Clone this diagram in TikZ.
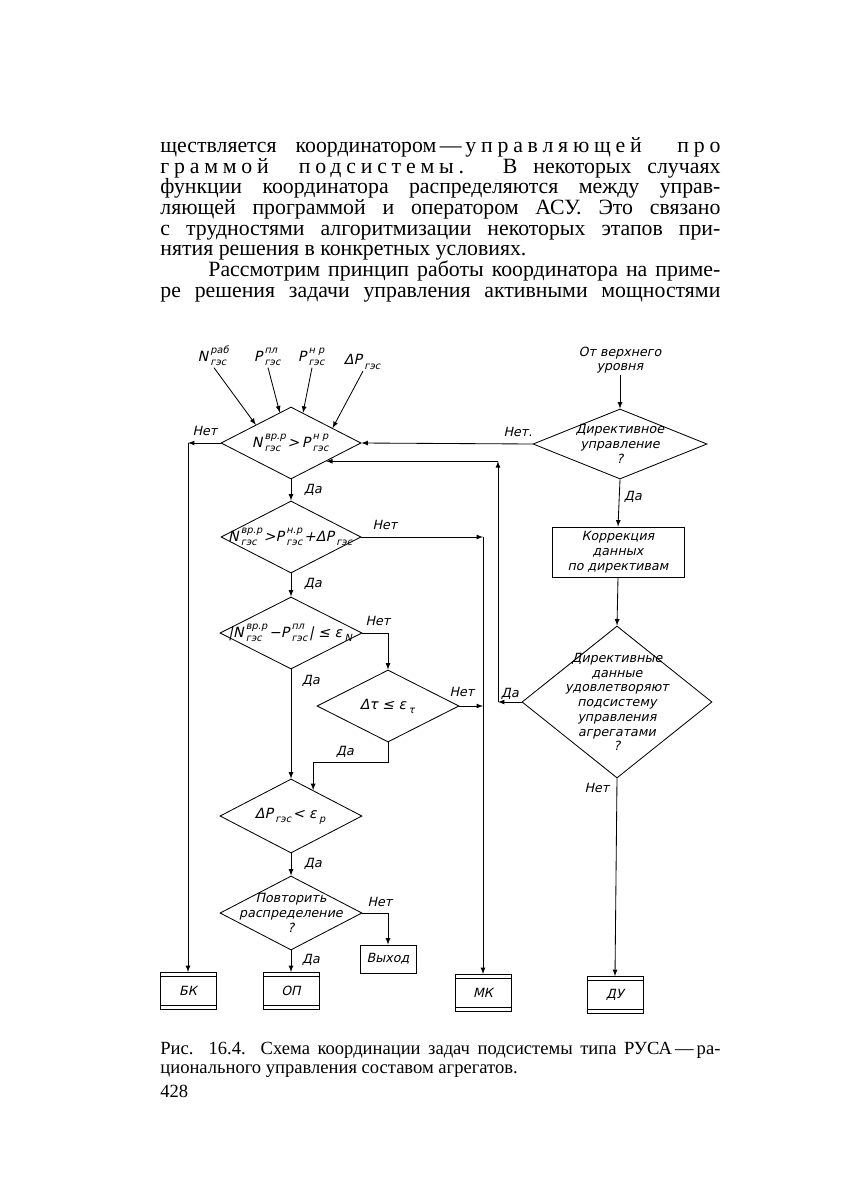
\documentclass[tikz,border=0pt]{standalone}
\usepackage{fontspec}
\setmainfont{Liberation Serif}
\newfontfamily\drw{DejaVu Sans}[FakeSlant=0.22]
\usetikzlibrary{shapes.geometric,calc}

\newlength\pxl
\setlength\pxl{0.025cm}
\newcommand\scr{\fontsize{7}{7}\selectfont}
\newcommand\qv[3]{#1\kern1.6pt\ooalign{\raisebox{5.5pt}{\scr#2}\cr\raisebox{-3pt}{\scr#3}\cr}\kern1.2pt}
\newcommand\rz[1]{{\addfontfeature{LetterSpace=22}#1}}

\tikzset{
  lbl/.style={font=\drw\fontsize{9}{10.5}\selectfont, inner sep=1pt, align=center},
  frm/.style={lbl, font=\drw\fontsize{10}{11}\selectfont},
  dia/.style 2 args={draw, diamond, inner sep=0pt, minimum width=#1*0.025cm, minimum height=#2*0.025cm},
  blk/.style 2 args={lbl, draw, rectangle, inner sep=0pt, minimum width=#1*0.025cm, minimum height=#2*0.025cm},
  subr/.style={blk={56}{37}, path picture={
      \draw ([yshift=-4\pxl]path picture bounding box.north west) -- ([yshift=-4\pxl]path picture bounding box.north east)
            ([yshift=4\pxl]path picture bounding box.south west) -- ([yshift=4\pxl]path picture bounding box.south east);}},
  txt/.style={anchor=base west, inner sep=0pt, font=\fontsize{15.5}{17}\selectfont},
  captxt/.style={anchor=base west, inner sep=0pt, font=\fontsize{13.2}{15}\selectfont},
}

\begin{document}
\begin{tikzpicture}[x=0.025cm,y=-0.025cm,>=latex,line width=0.6pt]
  \useasboundingbox (0,0) rectangle (846,1190);

  % text above the figure
  \node[txt] (l1) at (160,152) {\makebox[560\pxl][s]{ществляется координатором\,—\,\rz{управляющей про}}};
  \node[txt] (l2) at (160,173) {\makebox[560\pxl][s]{\rz{граммой подсистемы.} В некоторых случаях}};
  \node[txt] (l3) at (160,193) {\makebox[560\pxl][s]{функции координатора распределяются между управ-}};
  \node[txt] (l4) at (160,214) {\makebox[560\pxl][s]{ляющей программой и оператором АСУ. Это связано}};
  \node[txt] (l5) at (160,235) {\makebox[560\pxl][s]{с трудностями алгоритмизации некоторых этапов при-}};
  \node[txt] (l6) at (160,255) {нятия решения в конкретных условиях.};
  \node[txt] (l7) at (208,276) {\makebox[512\pxl][s]{Рассмотрим принцип работы координатора на приме-}};
  \node[txt] (l8) at (160,297) {\makebox[560\pxl][s]{ре решения задачи управления активными мощностями}};

  % inputs
  \node[frm] (in1) at (214,356) {\qv{N}{раб}{гэс}};
  \node[frm] (in2) at (268,357) {\qv{P}{пл}{гэс}};
  \node[frm] (in3) at (312,357) {\qv{P}{н р}{гэс}};
  \node[frm] (in4) at (363,362) {\qv{ΔP}{}{гэс}};
  \node[lbl] (top) at (620,360) {От верхнего\\уровня};

  % decisions
  \node[dia={140}{72}, label={[frm]center:{\qv{N}{вр.р}{гэс}>\,\qv{P}{н р}{гэс}}}] (d1) at (291,443) {};
  \node[dia={174}{70}, label={[lbl]center:{Директивное\\управление\\?}}] (d2) at (620,444) {};
  \node[dia={140}{72}, label={[frm]center:{\qv{N}{вр.р}{гэс}>\qv{P}{н.р}{гэс}+\qv{ΔP}{}{гэс}}}] (d3) at (291,537) {};
  \node[dia={142}{72}, label={[frm]center:{|\qv{N}{вр.р}{гэс}−\qv{P}{пл}{гэс}| ≤ \qv{ε}{}{N}}}] (d5) at (291,633) {};
  \node[dia={142}{72}, label={[frm]center:{Δτ ≤ \qv{ε}{}{τ}}}] (d6) at (388,706) {};
  \node[dia={190}{152}, label={[lbl]center:{Директивные\\данные\\удовлетворяют\\подсистему\\управления\\агрегатами\\?}}] (d4) at (617,702) {};
  \node[dia={142}{74}, label={[frm]center:{\qv{ΔP}{}{гэс}< \qv{ε}{}{p}}}] (d7) at (291,816) {};
  \node[dia={142}{74}, label={[lbl]center:{Повторить\\распределение\\?}}] (d8) at (291,913) {};

  % blocks
  \node[blk={132}{50}] (cor) at (618,552) {Коррекция\\данных\\по директивам};
  \node[blk={56}{28}] (ex) at (388,959) {Выход};
  \node[subr] (bk) at (188,991) {БК};
  \node[subr] (op) at (291,991) {ОП};
  \node[subr] (mk) at (483,993) {МК};
  \node[subr] (du) at (615,995) {ДУ};

  % answers
  \node[lbl] (no1) at (205,431) {Нет};
  \node[lbl] (no2) at (518,432) {Нет.};
  \node[lbl] (da1) at (313,490) {Да};
  \node[lbl] (no3) at (385,525) {Нет};
  \node[lbl] (da2) at (313,584) {Да};
  \node[lbl] (no4) at (378,621) {Нет};
  \node[lbl] (da3) at (311,681) {Да};
  \node[lbl] (no5) at (462,692) {Нет};
  \node[lbl] (da4) at (510,694) {Да};
  \node[lbl] (da5) at (345,752) {Да};
  \node[lbl] (da6) at (313,864) {Да};
  \node[lbl] (no6) at (380,902) {Нет};
  \node[lbl] (da7) at (311,960) {Да};
  \node[lbl] (da8) at (633,497) {Да};
  \node[lbl] (no7) at (597,788) {Нет};

  \coordinate (c1) at (188,443);
  \coordinate (c2) at (483,537);
  \coordinate (c5) at (498,702);
  \coordinate (c4) at ($(d7.north)!0.31!(d7.east)$);

  % connectors
  \draw[->] (in1.south) -- (d1.north west);
  \draw[->] (in2.south) -- ($(d1.north)!0.16!(d1.west)$);
  \draw[->] (in3.south) -- ($(d1.north)!0.17!(d1.east)$);
  \draw[->] (in4.south) -- ($(d1.north)!0.59!(d1.east)$);
  \draw[->] (top.south) -- (d2.north);
  \draw[->] (d2.west) -- (d1.east);
  \draw[->] (d1.west) -- (c1);
  \draw[->] (c1) -- (bk.north);
  \draw[->] (d1.south) -- (d3.north);
  \draw[->] (d3.east) -- (c2);
  \draw[->] (c2) -- (mk.north);
  \draw[->] (d3.south) -- (d5.north);
  \draw[->] (d5.east) -| (d6.north);
  \draw[->] (d6.east) -- (d6.east -| c2);
  \draw[->] (d6.south) -- ++(0,20) -| (c4);
  \draw[->] (d5.south) -- (d7.north);
  \draw[->] (d7.south) -- (d8.north);
  \draw[->] (d8.east) -| (ex.north);
  \draw[->] (d8.south) -- (op.north);
  \draw[->] (d2.south) -- (cor.north);
  \draw[->] (cor.south) -- (d4.north);
  \draw[->] (d4.west) -- (c5);
  \draw[->] (c5) -- (c5 |- d1.south east);
  \draw[->] (c5 |- d1.south east) -- (d1.south east);
  \draw[->] (d4.south) -- (du.north);

  % caption
  \node[captxt] (c1t) at (160,1054) {\makebox[560\pxl][s]{Рис. 16.4. Схема координации задач подсистемы типа РУСА\,—\,ра-}};
  \node[captxt] (c2t) at (160,1073) {ционального управления составом агрегатов.};
  \node[captxt] (pg) at (160,1097) {428};
\end{tikzpicture}
\end{document}
